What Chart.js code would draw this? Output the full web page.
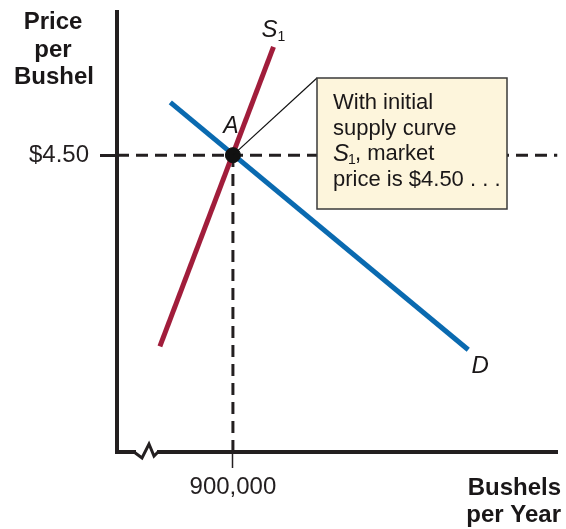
<!DOCTYPE html>
<html>
<head>
<meta charset="utf-8">
<script src="https://cdn.jsdelivr.net/npm/chart.js@4.4.1/dist/chart.umd.min.js"></script>
<style>
  html, body { margin: 0; padding: 0; background: #fff; }
  #wrap { width: 566px; height: 529px; }
</style>
</head>
<body>
<div id="wrap"><canvas id="chart" width="566" height="529"></canvas></div>
<script>
// Supply and demand data (quantity in bushels, price per bushel)
const supplyQty = [837000, 935000];
const supplyPrice = [1.6, 6.14];
const demandQty = [846000, 1103000];
const demandPrice = [5.30, 1.55];
const eqQty = 900000;
const eqPrice = 4.50;
const xTickValues = [900000];
const yTickValues = [4.50];
const xMin = 800000, xMax = 1180000;
const yMin = 0, yMax = 6.67;
const boxLines = ['With initial', 'supply curve', ', market', 'price is $4.50 . . .'];

const AXIS = '#231f20';
const RED = '#a11d3b';
const BLUE = '#0a6ab0';
const FONT = '"Liberation Sans", Arial, sans-serif';

const toPts = (xs, ys) => xs.map((x, i) => ({ x: x, y: ys[i] }));

const annotations = {
    id: 'annotations',
    afterDatasetsDraw(chart) {
        const ctx = chart.ctx;
        const xs = chart.scales.x;
        const ys = chart.scales.y;
        const area = chart.chartArea;
        ctx.save();

        // axis break on the quantity axis
        const bx = area.left, by = area.bottom;
        ctx.fillStyle = '#fff';
        ctx.fillRect(bx + 19, by - 3, 21, 6);
        ctx.strokeStyle = AXIS;
        ctx.lineWidth = 3;
        ctx.lineJoin = 'miter';
        ctx.beginPath();
        ctx.moveTo(bx + 17, by);
        ctx.lineTo(bx + 25, by + 6);
        ctx.lineTo(bx + 32, by - 8);
        ctx.lineTo(bx + 37, by + 4);
        ctx.lineTo(bx + 41, by);
        ctx.stroke();

        // callout line from A to the box
        const ax = xs.getPixelForValue(eqQty);
        const ay = ys.getPixelForValue(eqPrice);
        const boxL = 317, boxT = 78, boxW = 190, boxH = 131;
        ctx.strokeStyle = '#111';
        ctx.lineWidth = 1.2;
        ctx.beginPath();
        ctx.moveTo(ax, ay);
        ctx.lineTo(boxL, boxT);
        ctx.stroke();

        // callout box
        ctx.fillStyle = '#fdf5dc';
        ctx.fillRect(boxL, boxT, boxW, boxH);
        ctx.strokeStyle = '#3a3a3a';
        ctx.lineWidth = 1.5;
        ctx.strokeRect(boxL, boxT, boxW, boxH);

        ctx.fillStyle = '#1a1718';
        ctx.textBaseline = 'middle';
        ctx.textAlign = 'left';
        ctx.font = '22px ' + FONT;
        const tx = boxL + 16;
        ctx.fillText(boxLines[0], tx, 103);
        ctx.fillText(boxLines[1], tx, 129);
        ctx.font = 'italic 24px ' + FONT;
        ctx.fillText('S', tx, 154);
        const sw = ctx.measureText('S').width;
        ctx.font = '14px ' + FONT;
        ctx.fillText('1', tx + sw - 1, 160);
        ctx.font = '22px ' + FONT;
        ctx.fillText(boxLines[2], tx + sw + 6, 154);
        ctx.fillText(boxLines[3], tx, 180);

        // curve labels
        ctx.font = 'italic 24px ' + FONT;
        ctx.textAlign = 'center';
        const sx = xs.getPixelForValue(supplyQty[1]);
        const sy = ys.getPixelForValue(supplyPrice[1]);
        ctx.fillText('S', sx - 4, sy - 17);
        ctx.font = '14px ' + FONT;
        ctx.fillText('1', sx + 8, sy - 10);
        ctx.font = 'italic 23px ' + FONT;
        ctx.fillText('A', ax - 2, ay - 29);
        const dx = xs.getPixelForValue(demandQty[1]);
        const dy = ys.getPixelForValue(demandPrice[1]);
        ctx.font = 'italic 24px ' + FONT;
        ctx.fillText('D', dx + 12, dy + 17);

        // axis titles
        ctx.font = 'bold 24px ' + FONT;
        ctx.textAlign = 'center';
        ctx.fillText('Price', 53, 22);
        ctx.fillText('per', 53, 50);
        ctx.fillText('Bushel', 54, 77);
        ctx.textAlign = 'right';
        ctx.fillText('Bushels', 561, 488);
        ctx.fillText('per Year', 561, 515);

        ctx.restore();
    }
};

new Chart(document.getElementById('chart'), {
    type: 'scatter',
    data: {
        // datasets are drawn last-to-first, so the dot comes first
        datasets: [
            {
                label: 'A',
                data: [{ x: eqQty, y: eqPrice }],
                pointRadius: 7.5,
                pointBackgroundColor: '#111',
                pointBorderColor: '#111'
            },
            {
                label: 'S1',
                data: toPts(supplyQty, supplyPrice),
                showLine: true,
                borderColor: RED,
                borderWidth: 5,
                pointRadius: 0
            },
            {
                label: 'D',
                data: toPts(demandQty, demandPrice),
                showLine: true,
                borderColor: BLUE,
                borderWidth: 5,
                pointRadius: 0
            },
            {
                label: 'price guide',
                data: [{ x: xMin, y: eqPrice }, { x: xMax, y: eqPrice }],
                showLine: true,
                borderColor: AXIS,
                borderWidth: 3,
                borderDash: [12, 7],
                pointRadius: 0
            },
            {
                label: 'quantity guide',
                data: [{ x: eqQty, y: yMin }, { x: eqQty, y: eqPrice }],
                showLine: true,
                borderColor: AXIS,
                borderWidth: 3,
                borderDash: [12, 7],
                pointRadius: 0
            }
        ]
    },
    options: {
        responsive: false,
        animation: false,
        layout: { padding: { top: 12, right: 6, bottom: 0, left: 0 } },
        plugins: {
            legend: { display: false },
            tooltip: { enabled: false }
        },
        scales: {
            x: {
                type: 'linear',
                min: xMin,
                max: xMax,
                afterBuildTicks: (scale) => { scale.ticks = xTickValues.map(v => ({ value: v })); },
                afterFit: (scale) => {
                    scale.height = 77;
                    scale.paddingLeft = 0;
                    scale.paddingRight = 0;
                },
                ticks: {
                    color: '#231f20',
                    font: { size: 24, family: FONT },
                    padding: 5,
                    maxRotation: 0,
                    callback: (v) => v.toLocaleString('en-US')
                },
                grid: {
                    drawOnChartArea: false,
                    tickLength: 16,
                    tickWidth: 1.5,
                    tickColor: AXIS
                },
                border: { color: AXIS, width: 4 }
            },
            y: {
                type: 'linear',
                min: yMin,
                max: yMax,
                afterBuildTicks: (scale) => { scale.ticks = yTickValues.map(v => ({ value: v })); },
                afterFit: (scale) => {
                    scale.width = 117;
                    scale.paddingTop = 0;
                    scale.paddingBottom = 0;
                },
                ticks: {
                    color: '#231f20',
                    font: { size: 24, family: FONT },
                    padding: 11,
                    callback: (v) => '$' + v.toFixed(2)
                },
                grid: {
                    drawOnChartArea: false,
                    tickLength: 17,
                    tickWidth: 3,
                    tickColor: AXIS
                },
                border: { color: AXIS, width: 4 }
            }
        }
    },
    plugins: [annotations]
});
</script>
</body>
</html>
